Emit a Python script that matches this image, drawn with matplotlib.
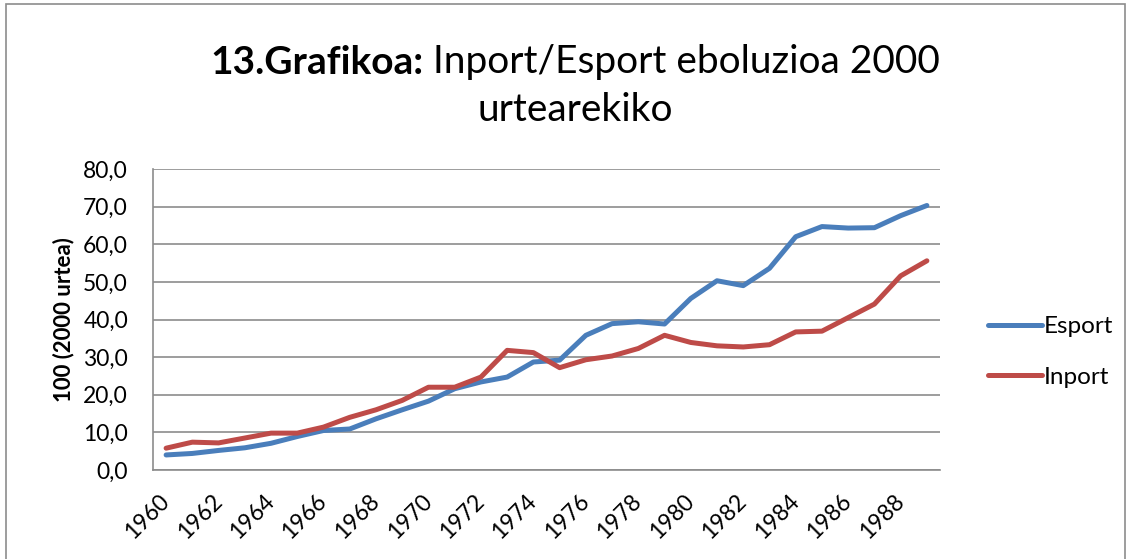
import matplotlib
matplotlib.use("Agg")
import matplotlib.pyplot as plt
from matplotlib.patches import Rectangle
from matplotlib.ticker import FuncFormatter

years = list(range(1960, 1990))
esport = [4.0, 4.4, 5.2, 5.9, 7.1, 8.9, 10.5, 10.9, 13.6, 16.0,
          18.3, 21.6, 23.4, 24.7, 28.7, 29.2, 35.8, 38.9, 39.4, 38.8,
          45.6, 50.3, 49.0, 53.6, 62.0, 64.7, 64.3, 64.4, 67.6, 70.3]
inport = [5.8, 7.4, 7.2, 8.5, 9.8, 9.8, 11.4, 14.0, 16.0, 18.5,
          22.0, 22.0, 24.7, 31.8, 31.2, 27.2, 29.3, 30.3, 32.3, 35.8,
          33.9, 33.0, 32.7, 33.3, 36.7, 36.9, 40.5, 44.1, 51.6, 55.6]
tick_years = [str(y) for y in years[::2]]
title_bold = '13.Grafikoa:'
title_rest = ' Inport/Esport eboluzioa 2000'
title_line2 = 'urtearekiko'

plt.rcParams['font.family'] = ['Lato', 'DejaVu Sans']

W, H = 1131, 559
fig = plt.figure(figsize=(W / 100, H / 100), dpi=100)
fig.patches.append(Rectangle((6 / W, -0.01), 1119 / W, 1 - 4 / H + 0.01,
                             transform=fig.transFigure, fill=False,
                             edgecolor='#8c8c8c', linewidth=1.2))

ax = fig.add_axes([153 / W, 89 / H, 787 / W, 301 / H])
x = list(range(len(years)))
ax.plot(x, esport, color='#4A7EBB', linewidth=3.6, label='Esport', solid_capstyle='round')
ax.plot(x, inport, color='#BE4B48', linewidth=3.6, label='Inport', solid_capstyle='round')

ax.set_xlim(-0.5, len(years) - 0.5)
ax.set_ylim(0, 80)
ax.set_yticks(range(0, 81, 10))
ax.yaxis.set_major_formatter(FuncFormatter(lambda v, p: f"{v:.1f}".replace('.', ',')))
ax.set_xticks(x[::2])
ax.set_xticklabels(tick_years, rotation=45, ha='right', va='center',
                   rotation_mode='anchor')
ax.grid(axis='y', color='#8c8c8c', linewidth=1.2)
ax.set_axisbelow(True)
for s in ['top', 'right']:
    ax.spines[s].set_visible(False)
for s in ['left', 'bottom']:
    ax.spines[s].set_color('#8c8c8c')
    ax.spines[s].set_linewidth(1.2)
ax.tick_params(axis='y', length=0, labelsize=16.5, pad=18)
ax.tick_params(axis='x', length=0, labelsize=16.5, pad=20)
ax.set_ylabel('100 (2000 urtea)', fontsize=16, fontweight='bold', labelpad=6)

ax.legend(loc='center left', bbox_to_anchor=(1.049, 0.392), frameon=False,
          fontsize=17.5, handlelength=2.2, handletextpad=0.1, labelspacing=1.2,
          borderaxespad=0)

# title: bold part + regular part, centred as one line
fs = 28
t1 = fig.text(0, 1 - 62 / H, title_bold, fontsize=fs, fontweight='bold',
              ha='left', va='center')
t2 = fig.text(0, 1 - 62 / H, title_rest, fontsize=fs, ha='left', va='center')
fig.canvas.draw()
r = fig.canvas.get_renderer()
w1 = t1.get_window_extent(r).width
w2 = t2.get_window_extent(r).width
cx = 575
start = cx - (w1 + w2) / 2
t1.set_x(start / W)
t2.set_x((start + w1) / W)
fig.text(cx / W, 1 - 110 / H, title_line2, fontsize=fs, ha='center', va='center')

fig.savefig('out.png', dpi=100)
